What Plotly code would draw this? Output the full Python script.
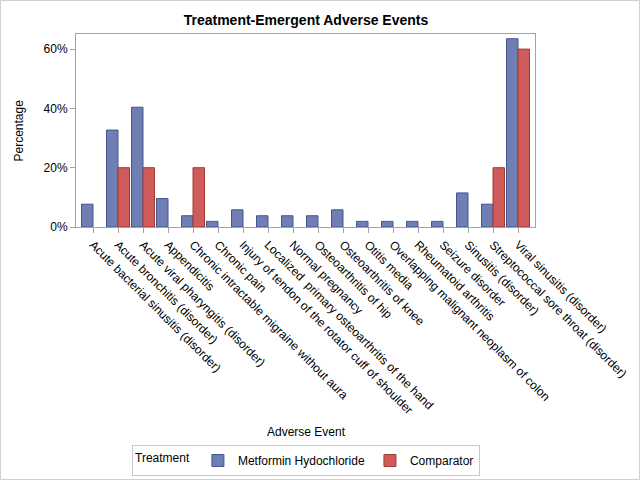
import plotly.graph_objects as go

categories = [
    "Acute bacterial sinusitis (disorder)",
    "Acute bronchitis (disorder)",
    "Acute viral pharyngitis (disorder)",
    "Appendicitis",
    "Chronic intractable migraine without aura",
    "Chronic pain",
    "Injury of tendon of the rotator cuff of shoulder",
    "Localized  primary osteoarthritis of the hand",
    "Normal pregnancy",
    "Osteoarthritis of hip",
    "Osteoarthritis of knee",
    "Otitis media",
    "Overlapping malignant neoplasm of colon",
    "Rheumatoid arthritis",
    "Seizure disorder",
    "Sinusitis (disorder)",
    "Streptococcal sore throat (disorder)",
    "Viral sinusitis (disorder)",
]
metformin = [7.7, 32.7, 40.4, 9.6, 3.8, 1.9, 5.8, 3.8, 3.8, 3.8, 5.8, 1.9, 1.9, 1.9, 1.9, 11.5, 7.7, 63.5]
comparator = [None, 20, 20, None, 20, None, None, None, None, None, None, None, None, None, None, None, 20, 60]
series_names = ["Metformin Hydochloride", "Comparator"]
ytick_vals = [0, 20, 40, 60]
ytick_text = ["0%", "20%", "40%", "60%"]

FONT = "Liberation Sans, Arial, sans-serif"

fig = go.Figure()
fig.add_trace(go.Bar(
    x=categories, y=metformin, name=series_names[0],
    marker=dict(color="#6F7EB3", line=dict(color="#445694", width=1)),
))
fig.add_trace(go.Bar(
    x=categories, y=comparator, name=series_names[1],
    marker=dict(color="#D05B5B", line=dict(color="#A23A2E", width=1)),
))

L, R, T, B = 76, 105, 34, 253
W, H = 640, 480
dw = W - L - R
dh = H - T - B

fig.update_layout(
    width=W, height=H,
    margin=dict(l=L, r=R, t=T, b=B, pad=0, autoexpand=False),
    paper_bgcolor="white", plot_bgcolor="white",
    barmode="group", bargap=0.08, bargroupgap=0,
    font=dict(family=FONT, size=12, color="#000000"),
    title=dict(text="<b>Treatment-Emergent Adverse Events</b>", x=306 / W, xanchor="center",
               y=1 - 20 / H, yanchor="middle", font=dict(size=14, family=FONT, color="#000")),
    showlegend=True,
    legend=dict(
        orientation="h", x=(306 - L) / dw, xanchor="center",
        y=(H - B - 445) / dh, yanchor="top",
        bordercolor="#C8C8C8", borderwidth=1,
        title=dict(text="Treatment", side="left", font=dict(size=12, family=FONT)),
        font=dict(size=12, family=FONT),
        itemwidth=30, tracegroupgap=0,
    ),
)
fig.update_xaxes(
    type="category", range=[-0.68, 17.68], tickangle=45, automargin=False,
    showline=True, linecolor="#A0A4A8", linewidth=1, mirror=True,
    ticks="outside", ticklen=5, tickcolor="#A0A4A8",
    tickfont=dict(size=12, family=FONT, color="#000"),
    showgrid=False, zeroline=False,
)
fig.update_yaxes(
    range=[0, 65.1], tickvals=ytick_vals, ticktext=ytick_text, automargin=False,
    showline=True, linecolor="#A0A4A8", linewidth=1, mirror=True,
    ticks="outside", ticklen=5, tickcolor="#A0A4A8",
    tickfont=dict(size=12, family=FONT, color="#000"),
    showgrid=False, zeroline=False,
)
fig.add_annotation(text="Adverse Event", xref="paper", yref="paper",
                   x=(306 - L) / dw, y=(H - B - 432) / dh, showarrow=False,
                   xanchor="center", yanchor="middle", font=dict(size=12, family=FONT))
fig.add_annotation(text="Percentage", xref="paper", yref="paper",
                   x=(18 - L) / dw, y=0.5, textangle=-90, showarrow=False,
                   xanchor="center", yanchor="middle", font=dict(size=12, family=FONT))
fig.add_shape(type="rect", xref="paper", yref="paper",
              x0=(0.5 - L) / dw, x1=(W - 0.5 - L) / dw,
              y0=(H - B - (H - 0.5)) / dh, y1=(H - B - 0.5) / dh,
              line=dict(color="#D0D0D0", width=1), fillcolor="rgba(0,0,0,0)", layer="below")

fig.write_html("out.html", config={"displayModeBar": False},
               post_script="document.body.style.margin='0';document.body.style.overflow='hidden';")
